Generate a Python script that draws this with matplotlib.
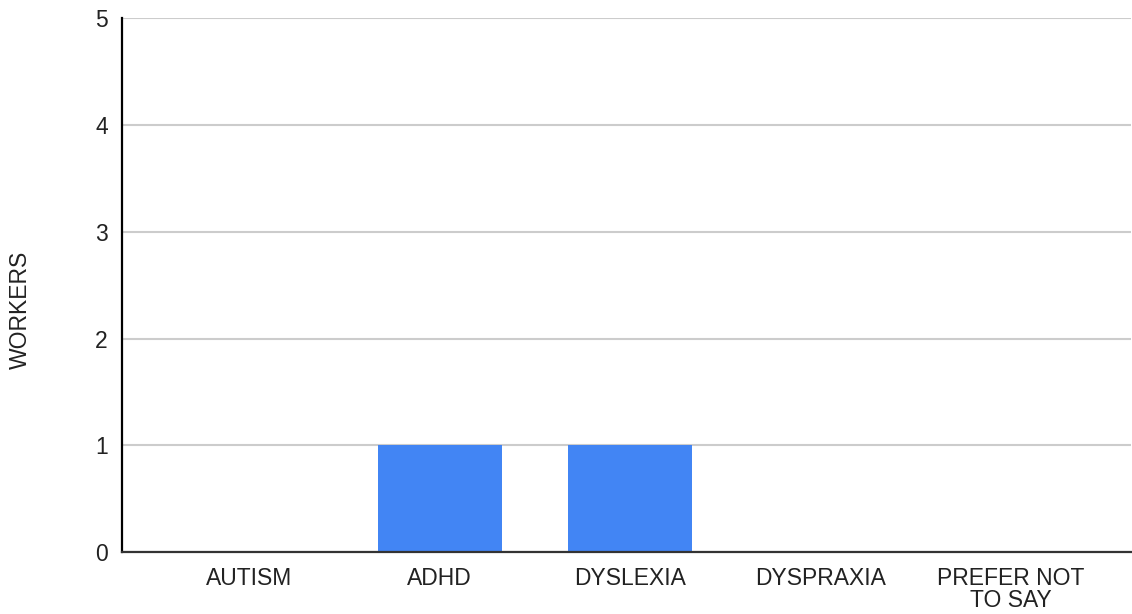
import matplotlib
matplotlib.use("Agg")
import matplotlib.pyplot as plt

categories = ["AUTISM", "ADHD", "DYSLEXIA", "DYSPRAXIA", "PREFER NOT\nTO SAY"]
workers = [0, 1, 1, 0, 0]
yticks = [0, 1, 2, 3, 4, 5]

plt.rcParams['font.family'] = ['Liberation Sans', 'DejaVu Sans']

W, H = 1132, 614
fig = plt.figure(figsize=(W / 100, H / 100), dpi=100)
left, right, top, bottom = 121.7, 1131, 18.5, 552
ax = fig.add_axes([left / W, 1 - bottom / H, (right - left) / W, (bottom - top) / H])

x = list(range(len(categories)))
ax.bar(x, workers, width=0.65, color="#4285F4", zorder=2)

ax.set_xlim(-0.67, 4.63)
ax.set_ylim(0, 5)
ax.set_yticks(yticks)
ax.set_yticklabels([str(v) for v in yticks])
ax.set_xticks(x)
ax.set_xticklabels(categories, linespacing=0.95)

ax.grid(axis="y", color="#cccccc", linewidth=1.5, zorder=0)
ax.set_axisbelow(True)
for s in ["top", "right"]:
    ax.spines[s].set_visible(False)
ax.spines["left"].set_color("#000000")
ax.spines["left"].set_linewidth(1.6)
ax.spines["left"].set_zorder(3)
ax.spines["bottom"].set_color("#333333")
ax.spines["bottom"].set_linewidth(1.6)
ax.spines["bottom"].set_zorder(3)

ax.tick_params(axis="both", length=0, labelsize=16.5, colors="#222222")
ax.tick_params(axis="y", pad=10)
ax.tick_params(axis="x", pad=11)

ax.set_ylabel("WORKERS", fontsize=16.5, color="#222222")
ax.yaxis.set_label_coords(20 / W * W / (right - left) - left / (right - left), (bottom - 310) / (bottom - top))
ax.yaxis.label.set_verticalalignment("center")

fig.savefig("out.png", dpi=100, facecolor="white")
